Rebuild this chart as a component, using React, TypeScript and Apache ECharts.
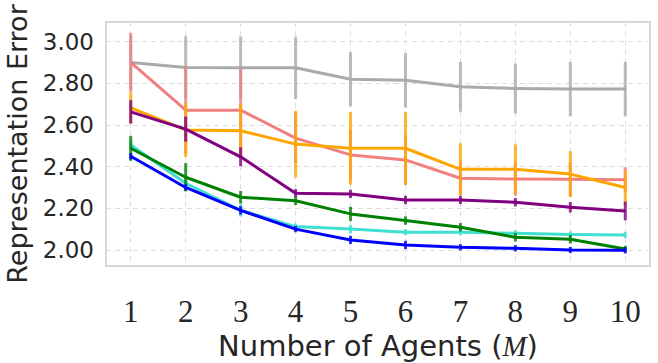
import React, { useEffect, useRef } from "react";
import * as echarts from "echarts";

const agents = [1, 2, 3, 4, 5, 6, 7, 8, 9, 10];
const xTicks = [1, 2, 3, 4, 5, 6, 7, 8, 9, 10];
const yTicks = [2.0, 2.2, 2.4, 2.6, 2.8, 3.0];

const grayMean = [2.9, 2.876, 2.874, 2.874, 2.819, 2.814, 2.783, 2.775, 2.772, 2.772];
const grayErr = [0.13, 0.15, 0.15, 0.15, 0.13, 0.13, 0.12, 0.12, 0.13, 0.13];
const salmonMean = [2.9, 2.671, 2.671, 2.537, 2.456, 2.432, 2.344, 2.34, 2.339, 2.337];
const salmonErr = [0.142, 0.21, 0.2, 0.12, 0.12, 0.12, 0.08, 0.08, 0.08, 0.06];
const orangeMean = [2.682, 2.576, 2.572, 2.508, 2.488, 2.488, 2.387, 2.387, 2.364, 2.3];
const orangeErr = [0.075, 0.13, 0.13, 0.16, 0.175, 0.175, 0.125, 0.12, 0.11, 0.084];
const purpleMean = [2.663, 2.58, 2.447, 2.272, 2.269, 2.24, 2.24, 2.229, 2.205, 2.187];
const purpleErr = [0.056, 0.06, 0.045, 0.02, 0.02, 0.02, 0.02, 0.02, 0.025, 0.045];
const turquoiseMean = [2.504, 2.32, 2.19, 2.112, 2.1, 2.085, 2.085, 2.08, 2.074, 2.072];
const turquoiseErr = [0.02, 0.02, 0.03, 0.015, 0.02, 0.015, 0.015, 0.015, 0.015, 0.015];
const greenMean = [2.488, 2.349, 2.253, 2.236, 2.173, 2.141, 2.109, 2.061, 2.051, 2.005];
const greenErr = [0.06, 0.068, 0.03, 0.02, 0.034, 0.02, 0.02, 0.02, 0.02, 0.015];
const blueMean = [2.45, 2.3, 2.19, 2.1, 2.048, 2.024, 2.013, 2.008, 2.0, 1.998];
const blueErr = [0.015, 0.015, 0.02, 0.015, 0.02, 0.02, 0.015, 0.015, 0.015, 0.015];

const seriesDefs = [
  { name: "gray", color: "#aaaaaa", mean: grayMean, err: grayErr },
  { name: "salmon", color: "#f08080", mean: salmonMean, err: salmonErr },
  { name: "orange", color: "#ffa500", mean: orangeMean, err: orangeErr },
  { name: "purple", color: "#800080", mean: purpleMean, err: purpleErr },
  { name: "turquoise", color: "#40e0d0", mean: turquoiseMean, err: turquoiseErr },
  { name: "green", color: "#008000", mean: greenMean, err: greenErr },
  { name: "blue", color: "#0000ff", mean: blueMean, err: blueErr },
];

export default function App() {
  const ref = useRef<HTMLDivElement>(null);
  useEffect(() => {
    if (!ref.current) return;
    const chart = echarts.init(ref.current, undefined, { renderer: "svg" });
    const series: any[] = [];
    seriesDefs.forEach((s, i) => {
      series.push({
        type: "custom",
        name: s.name + "-err",
        z: 3 + i,
        data: agents.map((x, k) => [x, s.mean[k] - s.err[k], s.mean[k] + s.err[k]]),
        renderItem: (params: any, api: any) => {
          const x = api.value(0);
          const p1 = api.coord([x, api.value(1)]);
          const p2 = api.coord([x, api.value(2)]);
          return {
            type: "line",
            shape: { x1: p1[0], y1: p1[1], x2: p2[0], y2: p2[1] },
            style: { stroke: s.color, lineWidth: 3, opacity: 0.8 },
          };
        },
      });
      series.push({
        type: "line",
        name: s.name,
        z: 3 + i,
        data: agents.map((x, k) => [x, s.mean[k]]),
        symbol: "none",
        showSymbol: false,
        lineStyle: { color: s.color, width: 3, join: "round" },
        itemStyle: { color: s.color },
      });
    });
    chart.setOption({
      animation: false,
      grid: {
        left: 106,
        right: 8,
        top: 22,
        bottom: 97,
        containLabel: false,
        outerBoundsMode: "none",
        show: true,
        borderColor: "#cccccc",
        borderWidth: 1.5,
        backgroundColor: "transparent",
      },
      xAxis: {
        type: "value",
        min: 0.55,
        max: 10.45,
        name: "Number of Agents ({m|M})",
        nameLocation: "middle",
        nameGap: 59,
        nameTextStyle: {
          fontFamily: "DejaVu Sans",
          fontSize: 29,
          color: "#262626",
          lineHeight: 29,
          rich: {
            m: {
              fontFamily: "Liberation Serif",
              fontStyle: "italic",
              fontSize: 29,
              color: "#262626",
              lineHeight: 29,
            },
          },
        },
        axisLine: { show: false },
        axisTick: { show: false, customValues: xTicks },
        axisLabel: {
          customValues: xTicks,
          fontFamily: "Liberation Serif",
          fontSize: 31,
          color: "#262626",
          margin: 30,
          formatter: (v: number) => String(v),
        },
        splitLine: {
          show: true,
          lineStyle: { color: "#dddddd", type: [5, 4], width: 1 },
        },
      },
      yAxis: {
        type: "value",
        min: 1.923,
        max: 3.094,
        name: "Representation Error",
        nameLocation: "middle",
        nameGap: 75,
        nameTextStyle: {
          fontFamily: "DejaVu Sans",
          fontSize: 27,
          color: "#262626",
          lineHeight: 27,
        },
        axisLine: { show: false },
        axisTick: { show: false, customValues: yTicks },
        axisLabel: {
          customValues: yTicks,
          fontFamily: "DejaVu Sans",
          fontSize: 23,
          color: "#262626",
          margin: 12,
          formatter: (v: number) => v.toFixed(2),
        },
        splitLine: {
          show: true,
          lineStyle: { color: "#dddddd", type: [5, 4], width: 1 },
        },
      },
      series,
    });
    return () => chart.dispose();
  }, []);
  return <div ref={ref} style={{ width: 658, height: 363, position: "absolute", left: 0, top: 0 }} />;
}
